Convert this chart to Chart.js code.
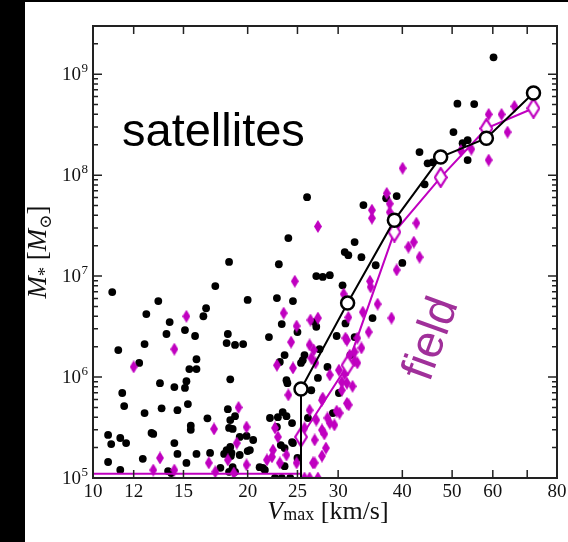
<!DOCTYPE html>
<html>
<head>
<meta charset="utf-8">
<script src="https://cdn.jsdelivr.net/npm/chart.js@4.4.0/dist/chart.umd.min.js"></script>
<style>
  html, body { margin: 0; padding: 0; background: #000; }
  #content { position: absolute; left: 25px; top: 2px; width: 543px; height: 540px; background: #fff; }
</style>
</head>
<body>
<div id="content"><canvas id="myChart" width="543" height="540"></canvas></div>
<script>
// axis ticks
const xTickValues = [10, 12, 15, 20, 25, 30, 40, 50, 60, 70, 80];
const xTickLabels = ['10', '12', '15', '20', '25', '30', '40', '50', '60', '', '80'];
const yDecades = [5, 6, 7, 8, 9];

// binned medians (Vmax in km/s, M* in Msun)
const medianVmax = [25.4, 31.3, 38.6, 47.5, 58.3, 72.0];
const satMedianMstar = [7.6e5, 5.4e6, 3.58e7, 1.51e8, 2.32e8, 6.5e8];
const fieldMedianMstar = [2.55e5, 1.31e6, 2.73e7, 9.5e7, 2.9e8, 4.6e8];
// bins below 25 km/s have zero median, they sit on the bottom edge
const floorVmax = [10, 25.4];
const satFloor = 1e5;
const fieldFloor = 1.1e5;

// individual satellites [Vmax, M*]
const satellitePoints = [
  [60.2,1.47e9],[51.2,5.1e8],[55.2,5.05e8],[50.3,2.67e8],[43.2,1.69e8],[44.8,1.31e8],[45.8,1.34e8],
  [52.4,2.07e8],[53.6,2.22e8],[53.6,1.41e8],[44.2,8.1e7],[37.2,5.9e7],[39.0,6.2e7],[26.1,6.05e7],
  [33.6,5.05e7],[24.0,2.38e7],[32.3,2.17e7],[30.9,1.73e7],[31.4,1.61e7],[33.3,1.54e7],[40.0,1.35e7],
  [35.5,1.28e7],[23.0,1.31e7],[18.4,1.38e7],[27.2,1.0e7],[28.0,9.8e6],[28.9,1.02e7],[30.6,8.1e6],
  [17.3,7.96e6],[10.9,6.95e6],[20.0,5.8e6],[22.8,6.06e6],[24.5,5.65e6],[13.4,5.65e6],[16.6,4.8e6],
  [12.7,4.2e6],[16.4,4.0e6],[14.1,3.5e6],[15.1,2.92e6],[35.0,3.84e6],[31.0,3.4e6],[23.3,3.35e6],
  [27.0,3.5e6],[27.2,3.15e6],[25.0,2.79e6],[32.3,2.49e6],[29.8,2.55e6],[22.0,2.49e6],[19.6,2.12e6],
  [13.9,2.67e6],[15.8,2.55e6],[18.3,2.67e6],[18.2,2.17e6],[18.9,2.08e6],[12.6,2.12e6],[11.2,1.85e6],
  [27.6,1.89e6],[12.3,1.38e6],[15.9,1.5e6],[15.4,1.2e6],[15.9,1.2e6],[23.6,1.65e6],[23.1,1.41e6],
  [25.8,1.65e6],[25.6,1.47e6],[25.4,1.38e6],[28.6,1.26e6],[31.7,1.65e6],[18.5,9.5e5],[13.5,8.7e5],
  [14.4,7.96e5],[15.1,7.8e5],[15.2,9.1e5],[11.4,6.95e5],[11.5,5.16e5],[13.6,4.9e5],[14.6,4.7e5],
  [15.3,5.4e5],[12.6,4.4e5],[18.3,4.8e5],[18.9,4.1e5],[16.7,3.9e5],[18.5,3.75e5],[18.4,3.13e5],
  [18.7,3.06e5],[15.5,3.3e5],[15.5,3.0e5],[19.3,2.55e5],[19.9,2.61e5],[20.5,2.38e5],[10.7,2.67e5],
  [10.85,2.17e5],[11.3,2.49e5],[11.6,2.22e5],[13.0,2.79e5],[13.1,2.73e5],[14.4,2.22e5],[18.5,2.03e5],
  [18.2,1.89e5],[18.6,1.77e5],[18.0,1.73e5],[18.55,1.65e5],[14.6,1.73e5],[16.9,1.77e5],[15.9,1.73e5],
  [19.3,1.69e5],[20.0,1.85e5],[20.2,1.89e5],[10.7,1.44e5],[12.5,1.55e5],[15.2,1.41e5],[11.3,1.2e5],
  [17.7,1.26e5],[18.7,1.28e5],[14.0,1.17e5],[14.2,1.12e5],[18.4,1.15e5],[18.9,1.15e5],[21.4,1.26e5],
  [21.6,1.2e5],[21.1,1.28e5],[22.1,3.93e5],[22.9,4.0e5],[23.4,4.5e5],[23.8,4.1e5],[24.4,3.5e5],
  [22.8,3.2e5],[23.2,2.12e5],[23.6,1.98e5],[24.4,2.27e5],[24.5,2.22e5],[23.6,1.31e5],[25.0,1.58e5],
  [26.2,3.93e5],[29.3,4.4e5],[23.8,9.3e5],[23.9,8.7e5],[27.4,9.8e5],[26.6,7.4e5],[30.1,6.95e5],
  [22.6,1.0e5],[23.3,1.0e5],[24.2,1.0e5]
];

// individual field dwarfs [Vmax, M*]
const fieldPoints = [
  [40.05,1.17e8],[37.3,6.6e7],[58.9,4.0e8],[62.4,4.0e8],[66.1,4.8e8],[64.1,2.67e8],[58.9,1.41e8],
  [54.5,1.81e8],[52.0,1.75e8],[37.8,5.2e7],[37.8,4.3e7],[34.9,4.5e7],[34.9,3.75e7],[42.6,3.35e7],
  [42.1,2.17e7],[41.1,1.94e7],[43.2,1.54e7],[39.0,1.15e7],[34.6,8.9e6],[34.7,7.8e6],[35.8,5.28e6],
  [33.5,4.4e6],[38.1,3.84e6],[34.4,2.79e6],[30.75,6.64e6],[27.4,3.1e7],[24.7,8.9e6],[23.5,4.3e6],
  [26.5,3.67e6],[27.4,3.84e6],[24.9,3.2e6],[31.4,3.9e6],[24.3,2.22e6],[26.4,2.08e6],[31.0,2.43e6],
  [31.6,1.65e6],[32.3,1.77e6],[32.7,2.43e6],[33.3,1.94e6],[31.2,2.32e6],[22.8,1.31e6],[24.5,1.23e6],
  [26.6,1.54e6],[26.9,1.85e6],[27.1,1.38e6],[28.9,1.05e6],[30.5,8.9e5],[24.0,6.64e5],[28.0,6.2e5],
  [31.2,5.5e5],[27.9,5.9e5],[26.4,4.7e5],[29.8,4.6e5],[28.6,3.93e5],[25.8,3.13e5],[29.5,3.35e5],
  [27.2,3.75e5],[27.9,2.99e5],[28.9,3.5e5],[28.2,2.73e5],[27.0,2.38e5],[28.4,1.98e5],[27.9,1.65e5],
  [27.0,1.41e5],[19.9,3.2e5],[22.9,2.55e5],[22.4,1.89e5],[22.3,1.62e5],[21.8,1.51e5],[24.9,1.41e5],
  [26.8,1.41e5],[23.8,1.69e5],[19.9,1.35e5],[23.1,1.41e5],[22.6,3.13e5],[15.2,4.0e6],[14.4,1.89e6],
  [12.0,1.26e6],[19.2,5.0e5],[17.2,3.06e5],[19.05,2.22e5],[13.5,1.58e5],[18.3,1.51e5],[16.8,1.41e5],
  [13.1,1.2e5],[14.4,1.2e5],[17.3,1.15e5],[18.8,1.12e5],[30.1,1.17e6],[30.9,1.07e6],[32.3,1.45e6],
  [32.7,1.38e6],[31.2,8.7e5],[32.0,8.1e5],[30.5,7.4e5],[31.45,5.3e5],[30.2,4.4e5],
  [25.8,1.0e5],[26.4,1.0e5],[27.4,1.0e5]
];

const magenta = '#c000c0';

// tall diamond markers, drawn once onto small canvases
function makeDiamond(w, h, fill, stroke, lw) {
  let c = document.createElement('canvas');
  c.width = w;
  c.height = h;
  let g = c.getContext('2d');
  let p = lw ? lw / 2 : 0;
  g.beginPath();
  g.moveTo(w / 2, p);
  g.lineTo(w - p, h / 2);
  g.lineTo(w / 2, h - p);
  g.lineTo(p, h / 2);
  g.closePath();
  g.fillStyle = fill;
  g.fill();
  if (stroke) {
    g.strokeStyle = stroke;
    g.lineWidth = lw;
    g.stroke();
  }
  return c;
}
const fieldMarker = makeDiamond(8, 13, magenta);
const fieldMedianMarker = makeDiamond(14, 21, '#fff', magenta, 2.2);

function toXY(list) {
  return list.map(p => ({x: p[0], y: p[1]}));
}

let satMedianLine = floorVmax.map(v => ({x: v, y: satFloor}));
let fieldMedianLine = floorVmax.map(v => ({x: v, y: fieldFloor}));
medianVmax.forEach((v, i) => {
  satMedianLine.push({x: v, y: satMedianMstar[i]});
  fieldMedianLine.push({x: v, y: fieldMedianMstar[i]});
});
const nFloor = floorVmax.length;

// draw a row of text pieces (mixed fonts, sub/superscripts) centred on x
function drawRuns(ctx, runs, x, y) {
  let total = 0;
  runs.forEach(r => { ctx.font = r.font; r.w = ctx.measureText(r.text).width; total += r.w; });
  let cx = x - total / 2;
  ctx.textAlign = 'left';
  ctx.textBaseline = 'alphabetic';
  runs.forEach(r => {
    ctx.font = r.font;
    ctx.fillText(r.text, cx, y + (r.dy || 0));
    cx += r.w;
  });
}

const serif = "'Liberation Serif', 'DejaVu Serif', serif";
const sans = "'Liberation Sans', Arial, sans-serif";

const framePlugin = {
  id: 'framePlugin',
  afterDatasetsDraw(chart) {
    let ctx = chart.ctx;
    let a = chart.chartArea;
    let xs = chart.scales.x;
    let ys = chart.scales.y;
    ctx.save();
    ctx.strokeStyle = '#222';
    ctx.fillStyle = '#111';

    // inward tick marks on all four sides
    ctx.lineWidth = 1.5;
    ctx.beginPath();
    xTickValues.forEach(v => {
      let px = xs.getPixelForValue(v);
      ctx.moveTo(px, a.bottom); ctx.lineTo(px, a.bottom - 8);
      ctx.moveTo(px, a.top); ctx.lineTo(px, a.top + 8);
    });
    yDecades.forEach(d => {
      for (let m = 1; m <= 9; m++) {
        let v = m * Math.pow(10, d);
        if (v > ys.max) break;
        let py = ys.getPixelForValue(v);
        let len = m === 1 ? 9 : 5;
        ctx.moveTo(a.left, py); ctx.lineTo(a.left + len, py);
        ctx.moveTo(a.right, py); ctx.lineTo(a.right - len, py);
      }
    });
    ctx.stroke();
    ctx.lineWidth = 2;
    ctx.strokeRect(a.left, a.top, a.right - a.left, a.bottom - a.top);

    // x tick labels
    ctx.font = '19px ' + serif;
    ctx.textAlign = 'center';
    ctx.textBaseline = 'alphabetic';
    xTickValues.forEach((v, i) => {
      if (xTickLabels[i]) ctx.fillText(xTickLabels[i], xs.getPixelForValue(v), a.bottom + 19);
    });

    // y tick labels 10^n
    yDecades.forEach(d => {
      let py = ys.getPixelForValue(Math.pow(10, d));
      ctx.font = '13px ' + serif;
      let ew = ctx.measureText(String(d)).width;
      ctx.textAlign = 'right';
      ctx.fillText(String(d), a.left - 5, py - 2);
      ctx.font = '19px ' + serif;
      ctx.fillText('10', a.left - 5 - ew - 0.5, py + 6);
    });

    // axis titles
    drawRuns(ctx, [
      {text: 'V', font: 'italic 26px ' + serif},
      {text: 'max', font: '18px ' + serif, dy: 1},
      {text: ' [km/s]', font: '26px ' + serif}
    ], (a.left + a.right) / 2 + 3, 517);

    ctx.save();
    ctx.translate(21, 250);
    ctx.rotate(-Math.PI / 2);
    drawRuns(ctx, [
      {text: 'M', font: 'italic 27px ' + serif},
      {text: '*', font: '18px ' + serif, dy: 5},
      {text: ' [', font: '27px ' + serif},
      {text: 'M', font: 'italic 27px ' + serif},
      {text: '\u2299', font: '17px ' + serif, dy: 5},
      {text: ']', font: '27px ' + serif}
    ], 0, 0);
    ctx.restore();

    // panel annotations
    ctx.fillStyle = '#000';
    ctx.font = '47px ' + sans;
    ctx.textAlign = 'left';
    ctx.fillText('satellites', 97, 144);

    ctx.save();
    ctx.translate(407, 337);
    ctx.rotate(-70 * Math.PI / 180);
    ctx.fillStyle = '#a0309a';
    ctx.font = '46px ' + sans;
    ctx.textAlign = 'center';
    ctx.textBaseline = 'middle';
    ctx.fillText('field', 0, 0);
    ctx.restore();

    ctx.restore();
  }
};

let ctx = document.getElementById('myChart').getContext('2d');
let myChart = new Chart(ctx, {
  type: 'scatter',
  data: {
    datasets: [
      {
        label: 'satellite median',
        data: satMedianLine,
        showLine: true,
        borderColor: '#000',
        borderWidth: 2,
        pointRadius: c => c.dataIndex < nFloor ? 0 : 6.5,
        pointBackgroundColor: '#fff',
        pointBorderColor: '#000',
        pointBorderWidth: 2.5,
        clip: false,
        order: 0
      },
      {
        label: 'field median',
        data: fieldMedianLine,
        showLine: true,
        borderColor: magenta,
        borderWidth: 2,
        pointStyle: fieldMedianMarker,
        pointRadius: c => c.dataIndex < nFloor ? 0 : 7,
        clip: false,
        order: 1
      },
      {
        label: 'field',
        data: toXY(fieldPoints),
        pointStyle: fieldMarker,
        pointRadius: 5,
        order: 2
      },
      {
        label: 'satellites',
        data: toXY(satellitePoints),
        pointStyle: 'circle',
        pointRadius: 3.9,
        pointBackgroundColor: '#000',
        pointBorderWidth: 0,
        order: 3
      }
    ]
  },
  options: {
    responsive: false,
    animation: false,
    events: [],
    layout: { padding: { left: 68, right: 11, top: 24, bottom: 64 } },
    plugins: { legend: { display: false }, tooltip: { enabled: false } },
    scales: {
      x: { type: 'logarithmic', min: 10, max: 80, display: false },
      y: { type: 'logarithmic', min: 1e5, max: 3e9, display: false }
    }
  },
  plugins: [framePlugin]
});
</script>
</body>
</html>
